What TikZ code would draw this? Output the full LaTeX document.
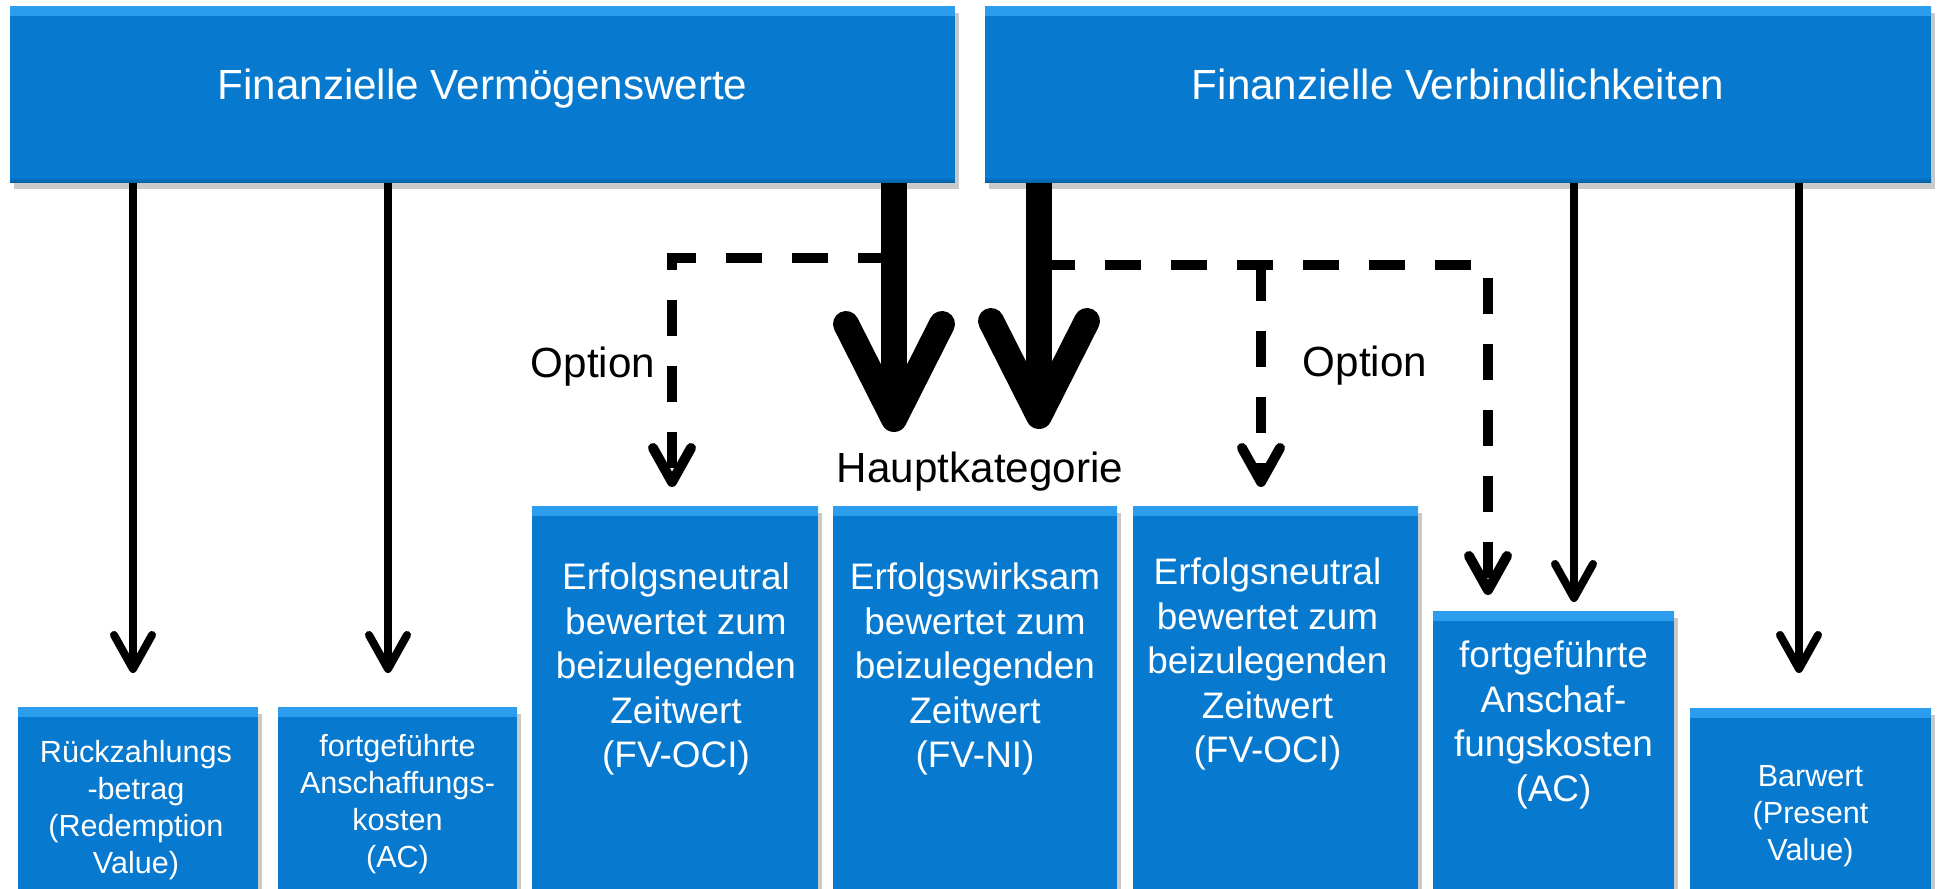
\documentclass[tikz,border=0pt]{standalone}
\usepackage{fontspec}
\setmainfont{Liberation Sans}
\usetikzlibrary{arrows.meta,shadows,calc}
\definecolor{boxblue}{RGB}{7,121,207}
\definecolor{boxtop}{RGB}{45,158,238}
\definecolor{boxedge}{RGB}{4,92,160}
\newcommand\fsTitle{\fontsize{12}{14}\selectfont}
\newcommand\fsBox{\fontsize{10.5}{12.7}\selectfont}
\newcommand\fsSmall{\fontsize{8.7}{10.5}\selectfont}
\tikzset{
  bluebox/.style={fill=boxblue, inner sep=0pt, outer sep=0pt, anchor=north west,
    drop shadow={shadow xshift=0.4mm, shadow yshift=-0.6mm, opacity=0.3, fill=black!70},
    path picture={
      \shade[top color=boxtop, bottom color=boxblue] (path picture bounding box.north west) rectangle ([yshift=-0.9mm]path picture bounding box.north east);
      \shade[top color=boxblue, bottom color=boxedge] ([yshift=0.6mm]path picture bounding box.south west) rectangle (path picture bounding box.south east);
    }},
  titlebox/.style={bluebox, minimum height=17.6mm, text=white, font=\fsTitle, text height=3mm, text depth=2mm},
  boxtext/.style={text=white, align=center, inner sep=0pt, anchor=north},
  lbl/.style={font=\fsTitle, inner sep=0pt, anchor=base},
  thinarr/.style={line width=0.8mm, -{Straight Barb[length=3.4mm, width=3.8mm, round]}},
  thickarr/.style={line width=2.6mm, -{Straight Barb[length=9.5mm, width=9.6mm, round]}},
  dasharr/.style={line width=1mm, dash pattern=on 3.6mm off 3mm, -{Straight Barb[length=3.4mm, width=3.8mm, round]}}
}

\begin{document}
\begin{tikzpicture}[x=0.1mm,y=-0.1mm]
	\useasboundingbox (0,0) rectangle (1937,889);
	
	%%%%% TOP %%%%%
	\node[titlebox, minimum width=94.5mm] (fa) at (10,7) {Finanzielle Vermögenswerte};
	\node[titlebox, minimum width=94.6mm] (fb) at (985,7) {Finanzielle Verbindlichkeiten};
	
	%%%%% BOTTOM %%%%%
	\node[bluebox, minimum width=24mm, minimum height=19.2mm] (b1) at (18,708) {};
	\node[bluebox, minimum width=23.9mm, minimum height=19.2mm] (b2) at (278,708) {};
	\node[bluebox, minimum width=28.6mm, minimum height=39.3mm] (b3) at (532,507) {};
	\node[bluebox, minimum width=28.4mm, minimum height=39.3mm] (b4) at (833,507) {};
	\node[bluebox, minimum width=28.5mm, minimum height=39.3mm] (b5) at (1133,507) {};
	\node[bluebox, minimum width=24.1mm, minimum height=28.8mm] (b6) at (1433,612) {};
	\node[bluebox, minimum width=24.1mm, minimum height=19.1mm] (b7) at (1690,709) {};
	
	\node[boxtext, font=\fsSmall] (t1) at ($(b1.north)+(-2,32)$) {Rückzahlungs\\-betrag\\(Redemption\\Value)};
	\node[boxtext, font=\fsSmall] (t2) at ($(b2.north)+(0,26)$) {fortgeführte\\Anschaffungs-\\kosten\\(AC)};
	\node[boxtext, font=\fsBox] (t3) at ($(b3.north)+(1,55)$) {Erfolgsneutral\\bewertet zum\\beizulegenden\\Zeitwert\\(FV-OCI)};
	\node[boxtext, font=\fsBox] (t4) at ($(b4.north)+(0,55)$) {Erfolgswirksam\\bewertet zum\\beizulegenden\\Zeitwert\\(FV-NI)};
	\node[boxtext, font=\fsBox] (t5) at ($(b5.north)+(-8,50)$) {Erfolgsneutral\\bewertet zum\\beizulegenden\\Zeitwert\\(FV-OCI)};
	\node[boxtext, font=\fsBox] (t6) at ($(b6.north)+(0,28)$) {fortgeführte\\Anschaf-\\fungskosten\\(AC)};
	\node[boxtext, font=\fsSmall] (t7) at ($(b7.north)+(0,56)$) {Barwert\\(Present\\Value)};
	
	%%%%% LABELS %%%%%
	\node[lbl] (opl) at (593,378) {Option};
	\node[lbl] (opr) at (1365,377) {Option};
	\node[lbl] (hk) at (980,483) {Hauptkategorie};
	
	%%%%% ARROWS %%%%%
	\coordinate (e1) at (133,673);
	\coordinate (e2) at (388,673);
	\coordinate (e6) at (1574,602);
	\coordinate (e7) at (1799,673);
	\coordinate (hl) at (894,432);
	\coordinate (hr) at (1039,429);
	\coordinate (dl0) at (894,258);
	\coordinate (dl1) at (672,487);
	\coordinate (dr0) at (1039,265);
	\coordinate (dr1) at (1488,595);
	\coordinate (dm1) at (1261,487);
	
	\draw[thinarr] (e1 |- fa.south) -- (e1);
	\draw[thinarr] (e2 |- fa.south) -- (e2);
	\draw[thinarr] (e6 |- fb.south) -- (e6);
	\draw[thinarr] (e7 |- fb.south) -- (e7);
	
	\draw[dasharr] (dl0) -| (dl1);
	\draw[dasharr] (dr0) -| (dr1);
	\draw[dasharr] (dm1 |- dr0) -- (dm1);
	
	\draw[thickarr] (hl |- fa.south) -- (hl);
	\draw[thickarr] (hr |- fb.south) -- (hr);
\end{tikzpicture}
\end{document}
